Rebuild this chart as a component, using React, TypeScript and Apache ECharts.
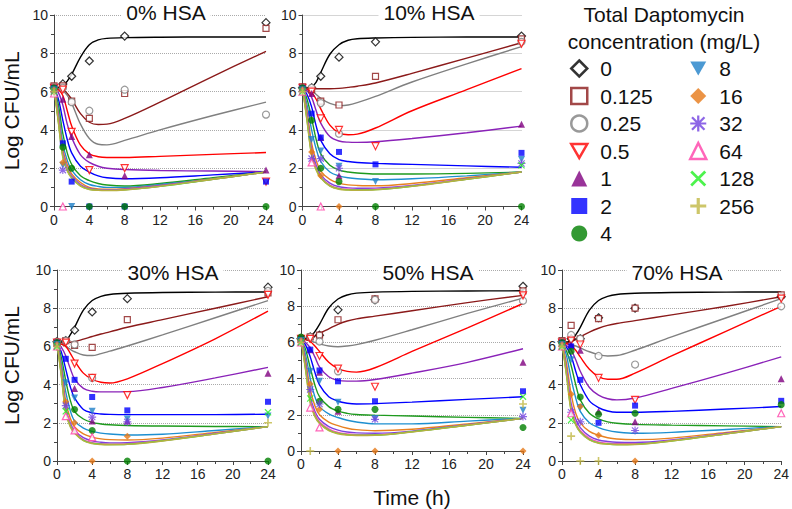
import React, { useEffect, useRef } from 'react';
import * as echarts from 'echarts';

const CONCS = ['0', '0.125', '0.25', '0.5', '1', '2', '4', '8', '16', '32', '64', '128', '256'];
const PANEL_TITLES = ['0% HSA', '10% HSA', '30% HSA', '50% HSA', '70% HSA'];
const FIT_T = [0, 0.5, 1, 1.5, 2, 3, 4, 5, 6, 8, 12, 18, 24];
const OBS_T = [0, 1, 2, 4, 8, 24];

const LINE_COLORS = ['#000000', '#8B1A1A', '#808080', '#FF0000', '#8A22B8', '#0000FF', '#1E9A1E', '#1E8FD0', '#E88020', '#8040E0', '#FF50B0', '#40E040', '#B8B040'];
const MARK_COLORS = ['#000000', '#8B1A1A', '#7F7F7F', '#FF0000', '#800080', '#0000FF', '#008000', '#1E7FC8', '#E67817', '#7040E0', '#FF3FA8', '#20F020', '#C0B844'];

// model fits, rows = concentrations, columns = FIT_T
const FIT_HSA0 = [
  [6.2, 6.22, 6.3, 6.55, 6.9, 7.8, 8.45, 8.7, 8.78, 8.82, 8.84, 8.85, 8.85],
  [6.2, 6.18, 6.1, 5.9, 5.6, 4.85, 4.4, 4.28, 4.3, 4.6, 5.45, 6.8, 8.1],
  [6.2, 6.15, 6.05, 5.8, 5.4, 4.3, 3.55, 3.25, 3.22, 3.45, 4.0, 4.75, 5.45],
  [6.2, 6.1, 5.8, 5.0, 4.2, 3.2, 2.75, 2.6, 2.56, 2.56, 2.62, 2.72, 2.82],
  [6.2, 5.95, 5.3, 4.3, 3.6, 2.7, 2.3, 2.1, 2.0, 1.93, 1.88, 1.85, 1.82],
  [6.2, 5.6, 4.5, 3.5, 2.8, 2.1, 1.8, 1.6, 1.5, 1.45, 1.5, 1.65, 1.8],
  [6.2, 5.3, 3.8, 2.8, 2.2, 1.6, 1.35, 1.2, 1.12, 1.07, 1.2, 1.5, 1.8],
  [6.2, 5.0, 3.3, 2.4, 1.9, 1.4, 1.15, 1.05, 1.0, 1.0, 1.15, 1.45, 1.8],
  [6.2, 4.8, 3.0, 2.2, 1.7, 1.25, 1.0, 0.92, 0.9, 0.93, 1.1, 1.45, 1.8],
  [6.2, 4.6, 2.8, 2.0, 1.6, 1.15, 0.95, 0.88, 0.87, 0.9, 1.08, 1.43, 1.8],
  [6.2, 4.5, 2.7, 1.95, 1.55, 1.1, 0.92, 0.86, 0.85, 0.88, 1.06, 1.42, 1.8],
  [6.2, 4.4, 2.6, 1.9, 1.5, 1.08, 0.9, 0.85, 0.84, 0.87, 1.05, 1.42, 1.8],
  [6.2, 4.35, 2.55, 1.85, 1.48, 1.06, 0.89, 0.84, 0.83, 0.86, 1.05, 1.42, 1.8],
];
const FIT_HSA10 = [
  [6.2, 6.2, 6.25, 6.5, 7.0, 7.95, 8.45, 8.68, 8.76, 8.8, 8.83, 8.85, 8.85],
  [6.2, 6.18, 6.15, 6.15, 6.15, 6.15, 6.17, 6.22, 6.28, 6.45, 6.95, 7.75, 8.55],
  [6.2, 6.15, 6.05, 5.85, 5.65, 5.38, 5.27, 5.3, 5.42, 5.75, 6.5, 7.45, 8.35],
  [6.2, 6.12, 5.95, 5.6, 5.1, 4.25, 3.85, 3.75, 3.78, 4.1, 5.0, 6.1, 7.2],
  [6.2, 6.05, 5.7, 5.0, 4.35, 3.65, 3.42, 3.36, 3.35, 3.38, 3.55, 3.85, 4.2],
  [6.2, 5.85, 5.2, 4.2, 3.45, 2.75, 2.45, 2.35, 2.3, 2.25, 2.2, 2.12, 2.05],
  [6.2, 5.6, 4.6, 3.5, 2.75, 2.15, 1.9, 1.8, 1.75, 1.7, 1.7, 1.73, 1.8],
  [6.2, 5.3, 4.0, 3.0, 2.35, 1.8, 1.6, 1.5, 1.45, 1.4, 1.45, 1.6, 1.8],
  [6.2, 5.0, 3.3, 2.4, 1.85, 1.42, 1.22, 1.13, 1.1, 1.08, 1.2, 1.5, 1.8],
  [6.2, 4.8, 3.0, 2.15, 1.65, 1.22, 1.03, 0.97, 0.95, 0.96, 1.1, 1.45, 1.8],
  [6.2, 4.6, 2.8, 2.0, 1.55, 1.12, 0.95, 0.9, 0.88, 0.9, 1.07, 1.43, 1.8],
  [6.2, 4.5, 2.7, 1.95, 1.5, 1.08, 0.92, 0.87, 0.86, 0.88, 1.06, 1.42, 1.8],
  [6.2, 4.45, 2.65, 1.9, 1.48, 1.06, 0.9, 0.86, 0.85, 0.87, 1.05, 1.42, 1.8],
];
const FIT_HSA30 = [
  [6.2, 6.22, 6.3, 6.6, 7.0, 7.9, 8.4, 8.62, 8.72, 8.78, 8.82, 8.84, 8.85],
  [6.2, 6.2, 6.2, 6.22, 6.25, 6.38, 6.52, 6.65, 6.76, 7.0, 7.4, 8.0, 8.6],
  [6.2, 6.12, 6.0, 5.85, 5.72, 5.55, 5.52, 5.62, 5.75, 6.02, 6.6, 7.5, 8.4],
  [6.2, 6.12, 6.0, 5.65, 5.25, 4.6, 4.28, 4.12, 4.08, 4.3, 5.1, 6.4, 7.85],
  [6.2, 5.95, 5.5, 4.85, 4.3, 3.8, 3.65, 3.62, 3.62, 3.63, 3.85, 4.35, 4.9],
  [6.2, 5.7, 4.8, 3.9, 3.3, 2.7, 2.52, 2.46, 2.44, 2.43, 2.43, 2.43, 2.45],
  [6.2, 5.4, 4.2, 3.2, 2.6, 2.2, 2.02, 1.94, 1.9, 1.86, 1.83, 1.81, 1.8],
  [6.2, 5.1, 3.6, 2.65, 2.1, 1.72, 1.55, 1.46, 1.41, 1.36, 1.4, 1.6, 1.8],
  [6.2, 4.9, 3.1, 2.25, 1.78, 1.42, 1.25, 1.16, 1.12, 1.1, 1.2, 1.5, 1.8],
  [6.2, 4.7, 2.8, 2.0, 1.6, 1.22, 1.05, 0.98, 0.95, 0.96, 1.1, 1.45, 1.8],
  [6.2, 4.55, 2.65, 1.9, 1.52, 1.12, 0.96, 0.9, 0.88, 0.9, 1.07, 1.43, 1.8],
  [6.2, 4.45, 2.55, 1.85, 1.48, 1.08, 0.93, 0.88, 0.86, 0.88, 1.06, 1.42, 1.8],
  [6.2, 4.4, 2.5, 1.8, 1.45, 1.06, 0.91, 0.86, 0.85, 0.87, 1.05, 1.42, 1.8],
];
const FIT_HSA50 = [
  [6.2, 6.22, 6.3, 6.6, 7.0, 7.9, 8.4, 8.62, 8.72, 8.78, 8.82, 8.84, 8.85],
  [6.2, 6.2, 6.25, 6.35, 6.5, 6.75, 7.0, 7.18, 7.3, 7.45, 7.75, 8.2, 8.6],
  [6.2, 6.15, 6.1, 6.0, 5.92, 5.8, 5.76, 5.8, 5.88, 6.12, 6.7, 7.6, 8.45],
  [6.2, 6.15, 6.05, 5.8, 5.5, 4.9, 4.55, 4.4, 4.36, 4.6, 5.5, 6.8, 8.15],
  [6.2, 6.0, 5.7, 5.2, 4.65, 4.1, 3.9, 3.86, 3.86, 3.95, 4.3, 4.9, 5.65],
  [6.2, 5.85, 5.2, 4.35, 3.65, 3.0, 2.75, 2.64, 2.6, 2.62, 2.7, 2.85, 3.0],
  [6.2, 5.6, 4.6, 3.65, 3.0, 2.45, 2.2, 2.08, 2.02, 1.98, 1.93, 1.86, 1.8],
  [6.2, 5.3, 4.0, 3.0, 2.45, 2.05, 1.85, 1.7, 1.6, 1.5, 1.5, 1.65, 1.8],
  [6.2, 5.0, 3.4, 2.5, 2.0, 1.6, 1.4, 1.26, 1.18, 1.12, 1.2, 1.5, 1.8],
  [6.2, 4.8, 3.0, 2.2, 1.75, 1.35, 1.15, 1.05, 1.0, 0.98, 1.1, 1.45, 1.8],
  [6.2, 4.6, 2.8, 2.05, 1.62, 1.22, 1.02, 0.94, 0.9, 0.9, 1.07, 1.43, 1.8],
  [6.2, 4.5, 2.7, 1.95, 1.55, 1.15, 0.97, 0.9, 0.87, 0.88, 1.06, 1.42, 1.8],
  [6.2, 4.45, 2.65, 1.9, 1.52, 1.12, 0.95, 0.88, 0.86, 0.87, 1.05, 1.42, 1.8],
];
const FIT_HSA70 = [
  [6.2, 6.22, 6.3, 6.6, 7.0, 7.9, 8.4, 8.62, 8.72, 8.78, 8.82, 8.84, 8.85],
  [6.2, 6.2, 6.25, 6.35, 6.5, 6.75, 6.95, 7.1, 7.2, 7.35, 7.65, 8.1, 8.6],
  [6.2, 6.15, 6.1, 6.02, 5.92, 5.72, 5.57, 5.5, 5.52, 5.8, 6.5, 7.5, 8.5],
  [6.2, 6.15, 6.05, 5.8, 5.45, 4.8, 4.42, 4.28, 4.28, 4.6, 5.5, 6.8, 8.1],
  [6.2, 6.05, 5.8, 5.3, 4.7, 3.85, 3.45, 3.26, 3.2, 3.3, 3.8, 4.6, 5.45],
  [6.2, 5.95, 5.5, 4.7, 4.0, 3.15, 2.8, 2.62, 2.55, 2.55, 2.6, 2.72, 2.85],
  [6.2, 5.75, 5.0, 4.0, 3.2, 2.5, 2.2, 2.05, 1.98, 1.92, 1.88, 1.84, 1.8],
  [6.2, 5.5, 4.3, 3.3, 2.6, 2.0, 1.75, 1.6, 1.52, 1.45, 1.5, 1.65, 1.8],
  [6.2, 5.1, 3.5, 2.5, 2.0, 1.55, 1.35, 1.22, 1.15, 1.12, 1.2, 1.5, 1.8],
  [6.2, 4.8, 3.0, 2.2, 1.75, 1.3, 1.1, 1.02, 0.98, 0.97, 1.1, 1.45, 1.8],
  [6.2, 4.6, 2.75, 2.0, 1.6, 1.18, 1.0, 0.93, 0.9, 0.9, 1.07, 1.43, 1.8],
  [6.2, 4.5, 2.65, 1.92, 1.52, 1.12, 0.95, 0.89, 0.86, 0.87, 1.05, 1.42, 1.8],
  [6.2, 4.45, 2.6, 1.88, 1.5, 1.1, 0.93, 0.88, 0.85, 0.86, 1.05, 1.42, 1.8],
];

// observed data, rows = concentrations, columns = OBS_T
const OBS_HSA0 = [
  [6.2, 6.4, 6.8, 7.6, 8.9, 9.6],
  [6.3, 6.3, 5.5, 4.6, 5.9, 9.3],
  [6.25, 6.2, 5.45, 5.0, 6.1, 4.8],
  [6.2, 6.1, 3.9, 1.9, 2.0, 1.3],
  [6.1, 5.6, 3.65, 2.7, 1.6, 1.9],
  [6.2, 3.3, 1.3, 0, 0, 1.3],
  [6.2, 3.1, 2.0, 0, 0, 0],
  [6.1, 2.15, 0, null, null, null],
  [6.1, 2.3, null, null, null, null],
  [6.0, 1.9, null, null, null, null],
  [5.9, 0, null, null, null, null],
  [6.0, null, null, null, null, null],
  [6.0, null, null, null, null, null],
];
const OBS_HSA10 = [
  [6.2, 6.2, 6.8, 7.8, 8.6, 8.9],
  [6.25, 6.1, 5.5, 5.3, 6.8, 8.75],
  [6.2, 6.2, 5.4, 3.8, null, 8.6],
  [6.2, 6.0, 4.6, 4.0, 3.15, 8.5],
  [6.2, 5.9, 3.6, 1.6, null, 4.3],
  [6.2, 4.85, 3.6, 2.85, 2.2, 2.8],
  [6.2, 4.5, 2.0, 1.3, 0, 0],
  [6.1, 3.5, 2.9, 2.1, 1.3, 2.45],
  [6.1, 2.85, 1.6, 0, null, null],
  [6.0, 2.5, 2.5, 2.0, null, 2.25],
  [6.0, 2.3, 0, null, null, null],
  [6.0, null, null, null, null, 2.15],
  [6.0, null, null, null, null, null],
];
const OBS_HSA30 = [
  [6.25, 6.3, 6.85, 7.8, 8.5, 9.1],
  [6.2, 6.3, 6.05, 5.95, 7.4, 8.8],
  [6.25, 6.3, 6.1, 4.35, null, 8.9],
  [6.2, 6.2, 5.1, 4.35, 3.45, 8.7],
  [6.2, null, 3.8, 2.1, 2.1, 4.6],
  [6.2, 5.35, 4.25, 3.35, 2.65, 3.1],
  [6.2, null, 2.7, 1.6, 0, 0],
  [6.1, 4.1, 3.3, 2.6, 2.2, 2.35],
  [6.1, 3.1, 2.0, 0, 1.3, null],
  [6.0, 2.9, null, 2.3, 2.05, null],
  [6.0, 2.35, 1.6, 1.25, null, null],
  [6.0, 2.6, null, null, null, 2.55],
  [6.0, null, null, null, null, 2.0],
];
const OBS_HSA50 = [
  [6.2, 6.3, 6.4, 7.8, 8.35, 9.1],
  [6.2, 6.3, 6.4, 7.25, 8.4, 8.85],
  [6.25, 6.3, 6.05, 4.4, 8.35, 8.3],
  [6.2, 6.2, 5.25, 4.55, 3.55, 8.6],
  [6.2, 5.6, 4.35, 2.2, null, 4.9],
  [6.2, 5.6, 4.45, 3.85, 2.75, 3.3],
  [6.3, null, 2.75, 2.3, 2.3, 1.3],
  [6.1, 4.4, 3.85, 2.7, 1.8, 2.25],
  [6.1, 3.7, 2.3, 0, 0, 0],
  [6.0, 3.4, 2.6, null, 1.75, 1.9],
  [6.0, 2.4, 1.3, null, null, null],
  [6.0, 2.9, null, null, null, 3.0],
  [6.0, 0, null, null, null, 2.6],
];
const OBS_HSA70 = [
  [6.25, 6.4, 6.4, 7.5, 8.0, 8.6],
  [6.3, 7.1, 6.4, 7.45, 8.0, 8.7],
  [6.25, 6.6, 6.4, 5.5, 5.05, 8.1],
  [6.2, 6.3, 6.1, 4.35, 3.2, 8.5],
  [6.2, 6.1, 5.8, 2.6, 2.05, 4.3],
  [6.2, 6.0, 4.25, 2.0, 2.9, 3.15],
  [6.2, 5.75, 3.35, 2.45, 2.5, 2.95],
  [6.1, 5.3, 2.8, null, null, null],
  [6.1, 3.5, 2.85, 1.35, 0, null],
  [6.0, 2.55, 2.05, null, 1.6, null],
  [6.0, 2.5, null, null, null, 2.5],
  [6.0, 2.15, null, null, null, null],
  [6.0, 1.3, 0, 0, null, null],
];

const FITS = [FIT_HSA0, FIT_HSA10, FIT_HSA30, FIT_HSA50, FIT_HSA70];
const OBS = [OBS_HSA0, OBS_HSA10, OBS_HSA30, OBS_HSA50, OBS_HSA70];

const LEGEND_COL1 = ['0', '0.125', '0.25', '0.5', '1', '2', '4'];
const LEGEND_COL2 = ['8', '16', '32', '64', '128', '256'];

const DOWN_TRI = 'path://M0,0L10,0L5,8.66Z';
const PLUS = 'path://M4,0H6V4H10V6H6V10H4V6H0V4H4Z';
const CROSS = 'path://M0,1.2L1.2,0L10,8.8L8.8,10Z M8.8,0L10,1.2L1.2,10L0,8.8Z';
const STAR = 'path://M4.3,0H5.7V10H4.3Z M0,4.3H10V5.7H0Z M0.6,1.6L1.6,0.6L9.4,8.4L8.4,9.4Z M8.4,0.6L9.4,1.6L1.6,9.4L0.6,8.4Z';

const SYMBOLS = ['diamond', 'rect', 'circle', DOWN_TRI, 'triangle', 'rect', 'circle', DOWN_TRI, 'diamond', STAR, 'triangle', CROSS, PLUS];
const OPEN = [true, true, true, true, false, false, false, false, false, false, true, false, false];
const SIZES = [8, 6, 7, 7, 7, 6, 7, 7, 7, 8, 7, 7, 8];

const GRIDS = [
  { left: 43, top: 15, width: 223, height: 191.5 },
  { left: 302.5, top: 15, width: 219, height: 191.5 },
  { left: 47, top: 270, width: 221, height: 191 },
  { left: 301, top: 270, width: 222, height: 191 },
  { left: 562, top: 270, width: 221, height: 191 },
];
const TITLE_X = [161, 424, 168, 423, 672];
const TITLE_Y = [0, 0, 260, 260, 260];

const FONT = '"Liberation Sans", Arial, sans-serif';

export default function App() {
  const ref = useRef<HTMLDivElement>(null);
  useEffect(() => {
    if (!ref.current) return;
    const chart = echarts.init(ref.current, undefined, { renderer: 'svg' });

    const series: any[] = [];
    FITS.forEach((panel, p) => {
      panel.forEach((row, k) => {
        series.push({
          type: 'line',
          name: `fit ${PANEL_TITLES[p]} ${CONCS[k]}`,
          xAxisIndex: p,
          yAxisIndex: p,
          data: FIT_T.map((t, i) => [t, row[i]]),
          smooth: 0.35,
          symbol: 'none',
          silent: true,
          lineStyle: { color: LINE_COLORS[k], width: 1.4 },
          itemStyle: { color: LINE_COLORS[k] },
          z: 2,
        });
      });
    });
    OBS.forEach((panel, p) => {
      panel.forEach((row, k) => {
        const pts: number[][] = [];
        row.forEach((v, i) => {
          if (v !== null && v !== undefined) pts.push([OBS_T[i], v as number]);
        });
        series.push({
          type: 'scatter',
          name: CONCS[k],
          xAxisIndex: p,
          yAxisIndex: p,
          data: pts,
          symbol: SYMBOLS[k],
          symbolSize: SIZES[k],
          clip: false,
          silent: true,
          itemStyle: OPEN[k]
            ? { color: '#ffffff', borderColor: MARK_COLORS[k], borderWidth: 1.2 }
            : { color: MARK_COLORS[k], borderColor: MARK_COLORS[k], borderWidth: 0 },
          z: 3,
        });
      });
    });

    const axisCommon = {
      axisLine: { show: true, lineStyle: { color: '#444', width: 1 } },
      axisTick: { show: true, length: 4, lineStyle: { color: '#444' } },
      minorTick: { show: true, splitNumber: 2, length: 3, lineStyle: { color: '#444' } },
      axisLabel: { color: '#222', fontSize: 14, fontFamily: FONT },
    };

    const xAxis = GRIDS.map((_, p) => ({
      type: 'value',
      gridIndex: p,
      min: 0,
      max: 24,
      interval: 4,
      ...axisCommon,
      axisLabel: { ...axisCommon.axisLabel, margin: 6 },
      splitLine: { show: false },
      name: p === 3 ? 'Time (h)' : '',
      nameLocation: 'middle',
      nameGap: 36,
      nameTextStyle: { fontSize: 21, color: '#111', fontFamily: FONT },
    }));
    const yAxis = GRIDS.map((_, p) => ({
      type: 'value',
      gridIndex: p,
      min: 0,
      max: 10,
      interval: 2,
      ...axisCommon,
      axisLabel: { ...axisCommon.axisLabel, margin: 6 },
      splitLine: { show: true, lineStyle: { color: '#aaa', type: 'dotted', width: 1 } },
      name: p === 0 || p === 2 ? 'Log CFU/mL' : '',
      nameLocation: 'middle',
      nameGap: p === 0 ? 32 : 35,
      nameTextStyle: { fontSize: 21, color: '#111', fontFamily: FONT },
    }));

    const titles: any[] = PANEL_TITLES.map((t, p) => ({
      text: t,
      left: TITLE_X[p],
      top: TITLE_Y[p],
      textAlign: 'center',
      padding: [0, 5],
      backgroundColor: '#fff',
      textStyle: { fontSize: 21, fontWeight: 'normal', color: '#111', fontFamily: FONT, lineHeight: 24 },
    }));
    titles.push({
      text: 'Total Daptomycin\nconcentration (mg/L)',
      left: 664,
      top: 1,
      textAlign: 'center',
      padding: 0,
      textStyle: { fontSize: 21, fontWeight: 'normal', color: '#111', fontFamily: FONT, lineHeight: 27 },
    });

    const legendItem = (name: string) => {
      const k = CONCS.indexOf(name);
      return { name, itemStyle: { borderWidth: OPEN[k] ? 2.5 : 0 } };
    };
    const legendCommon = {
      orient: 'vertical',
      top: 58,
      padding: 0,
      itemWidth: 16,
      itemHeight: 16,
      itemGap: 6.5,
      selectedMode: false,
      textStyle: { fontSize: 21, color: '#111', fontFamily: FONT, lineHeight: 20, padding: [0, 0, 0, 8] },
    };

    chart.setOption({
      animation: false,
      backgroundColor: '#fff',
      title: titles,
      legend: [
        { ...legendCommon, left: 570, data: LEGEND_COL1.map(legendItem) },
        { ...legendCommon, left: 689, data: LEGEND_COL2.map(legendItem) },
      ],
      grid: GRIDS.map((g) => ({ ...g, containLabel: false })),
      xAxis,
      yAxis,
      series,
    });
    return () => chart.dispose();
  }, []);
  return <div ref={ref} style={{ position: 'absolute', left: 0, top: 0, width: '792px', height: '509px' }} />;
}
